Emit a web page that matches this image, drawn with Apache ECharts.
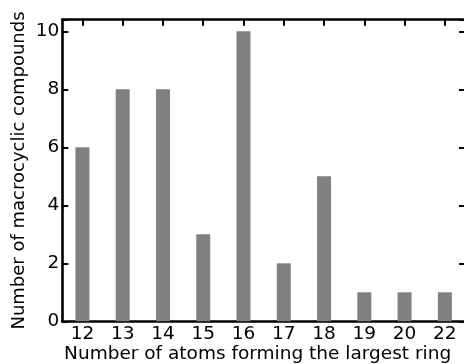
<!DOCTYPE html>
<html>
<head>
<meta charset="utf-8">
<script src="https://cdn.jsdelivr.net/npm/echarts@6/dist/echarts.min.js"></script>
<style>html,body{margin:0;padding:0;background:#fff}#c{width:464px;height:364px}</style>
</head>
<body>
<div id="c"></div>
<script>
const categories = ['12','13','14','15','16','17','18','19','20','22'];
const counts = [6, 8, 8, 3, 10, 2, 5, 1, 1, 1];
const yTicks = [0, 2, 4, 6, 8, 10];

const chart = echarts.init(document.getElementById('c'), null, {renderer: 'canvas'});
const font = 'DejaVu Sans';
const tickStyle = {show: true, inside: true, length: 6, lineStyle: {color: '#000', width: 2}};
const lineStyle = {show: true, onZero: false, lineStyle: {color: '#000', width: 2.6}};
chart.setOption({
  animation: false,
  grid: {left: 62.3, top: 19.7, width: 402.7, height: 301.6, containLabel: false, outerBoundsMode: 'none'},
  xAxis: [{
    type: 'category', data: categories, position: 'bottom',
    axisLine: lineStyle, axisTick: Object.assign({alignWithLabel: true}, tickStyle),
    axisLabel: {color: '#000', fontFamily: font, fontSize: 18.5, margin: 3},
    name: 'Number of atoms forming the largest ring', nameLocation: 'middle', nameGap: 23,
    nameMoveOverlap: false,
    nameTextStyle: {color: '#000', fontFamily: font, fontSize: 18.5, padding: [0, 12, 0, 0]}
  }, {
    type: 'category', data: categories, position: 'top',
    axisLine: lineStyle, axisTick: Object.assign({alignWithLabel: true}, tickStyle),
    axisLabel: {show: false}
  }],
  yAxis: [{
    type: 'value', min: 0, max: 10.4, interval: 2, position: 'left',
    axisLine: lineStyle, axisTick: tickStyle, splitLine: {show: false},
    axisLabel: {color: '#000', fontFamily: font, fontSize: 18.5, margin: 3,
      customValues: yTicks, formatter: v => String(v)},
    name: 'Number of macrocyclic compounds', nameLocation: 'middle', nameGap: 34,
    nameMoveOverlap: false,
    nameTextStyle: {color: '#000', fontFamily: font, fontSize: 18}
  }, {
    type: 'value', min: 0, max: 10.4, interval: 2, position: 'right',
    axisLine: lineStyle, axisTick: tickStyle, splitLine: {show: false},
    axisLabel: {show: false}
  }],
  series: [{
    type: 'bar', data: counts, barWidth: 14,
    itemStyle: {color: '#808080'}
  }]
});
</script>
</body>
</html>
